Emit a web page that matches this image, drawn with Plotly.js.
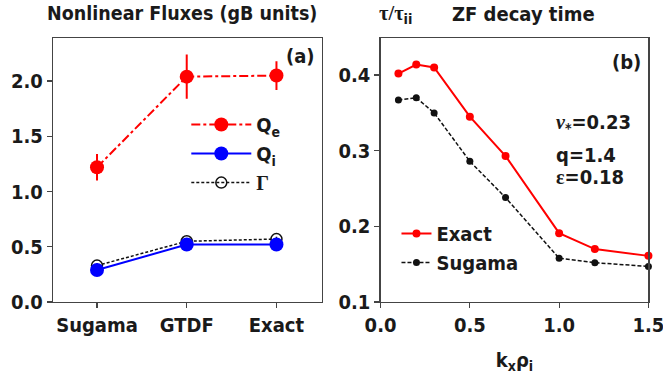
<!DOCTYPE html>
<html><head><meta charset="utf-8">
<script src="https://cdn.plot.ly/plotly-3.0.1.min.js"></script>
<style>body{margin:0;padding:0;background:#fff}#c{width:663px;height:382px}</style>
</head><body><div id="c"></div>
<script>
// Panel (a): nonlinear fluxes
const models = ['Sugama', 'GTDF', 'Exact'];
const modelPos = [0, 1, 2];
const Qe = [1.22, 2.04, 2.05];
const QeErr = [0.12, 0.20, 0.13];
const Qi = [0.29, 0.52, 0.52];
const QiErr = [0.02, 0.02, 0.02];
const Gam = [0.33, 0.55, 0.57];
const GamErr = [0.02, 0.02, 0.02];
// Panel (b): ZF decay time
const kx = [0.1, 0.2, 0.3, 0.5, 0.7, 1.0, 1.2, 1.5];
const tauExact = [0.402, 0.414, 0.410, 0.345, 0.293, 0.191, 0.170, 0.161];
const tauSugama = [0.367, 0.370, 0.350, 0.286, 0.238, 0.158, 0.152, 0.147];

const FF = '"DejaVu Sans Condensed", "Liberation Sans Narrow", sans-serif';
const SERIF = 'Liberation Serif';
const TXT = '#1a1a1a';
const bf = (s) => ({family: FF, size: s, color: TXT, weight: 'bold'});
const serif = (t) => '<span style="font-family:' + SERIF + '">' + t + '</span>';

const traces = [
  {x: modelPos, y: Gam, name: serif('Γ'), legendrank: 3, mode: 'lines+markers', xaxis: 'x', yaxis: 'y',
   line: {color: '#111', width: 1.5, dash: '3px,2px'},
   marker: {symbol: 'circle-open', size: 11, color: '#111', line: {width: 1.5, color: '#111'}},
   error_y: {type: 'data', array: GamErr, thickness: 1.5, width: 0, color: '#111'}},
  {x: modelPos, y: Qi, name: 'Q<sub>i</sub>', legendrank: 2, mode: 'lines+markers', xaxis: 'x', yaxis: 'y',
   line: {color: '#0000ff', width: 2},
   marker: {symbol: 'circle', size: 14, color: '#0000ff'},
   error_y: {type: 'data', array: QiErr, thickness: 2, width: 0, color: '#0000ff'}},
  {x: modelPos, y: Qe, name: 'Q<sub>e</sub>', legendrank: 1, mode: 'lines+markers', xaxis: 'x', yaxis: 'y',
   line: {color: '#ff0000', width: 2, dash: 'dashdot'},
   marker: {symbol: 'circle', size: 14, color: '#ff0000'},
   error_y: {type: 'data', array: QeErr, thickness: 2, width: 0, color: '#ff0000'}},
  {x: kx, y: tauExact, name: 'Exact', legend: 'legend2', mode: 'lines+markers', xaxis: 'x2', yaxis: 'y2',
   line: {color: '#ff0000', width: 2}, marker: {symbol: 'circle', size: 8, color: '#ff0000'}, cliponaxis: false},
  {x: kx, y: tauSugama, name: 'Sugama', legend: 'legend2', mode: 'lines+markers', xaxis: 'x2', yaxis: 'y2',
   line: {color: '#111', width: 1.5, dash: '4px,2px'}, marker: {symbol: 'circle', size: 7, color: '#111'}, cliponaxis: false}
];

const axBase = {
  showline: true, mirror: true, linecolor: '#444', linewidth: 1.2,
  ticks: 'outside', ticklen: 5, tickcolor: '#444', tickwidth: 1.2,
  showgrid: false, zeroline: false, tickfont: bf(20), ticklabeloverflow: 'allow'
};

const yTop = 0.9005, yBot = 0.2094;
const layout = {
  width: 663, height: 382,
  margin: {l: 0, r: 0, t: 0, b: 0},
  paper_bgcolor: '#fff', plot_bgcolor: '#fff',
  showlegend: true,
  xaxis: Object.assign({}, axBase, {domain: [0.08, 0.486], range: [-0.49, 2.51],
    tickmode: 'array', tickvals: modelPos, ticktext: models, anchor: 'y'}),
  yaxis: Object.assign({}, axBase, {domain: [yBot, yTop], range: [0, 2.39],
    tickvals: [0, 0.5, 1.0, 1.5, 2.0], tickformat: '.1f', anchor: 'x'}),
  xaxis2: Object.assign({}, axBase, {domain: [0.574, 0.978], range: [0, 1.5],
    tickvals: [0, 0.5, 1.0, 1.5], tickformat: '.1f', anchor: 'y2',
    title: {text: 'k<sub>x</sub>ρ<sub>i</sub>', font: bf(20), standoff: 16}}),
  yaxis2: Object.assign({}, axBase, {domain: [yBot, yTop], range: [0.1, 0.449],
    tickvals: [0.1, 0.2, 0.3, 0.4], tickformat: '.1f', anchor: 'x2'}),
  legend: {x: 0.281, y: 0.725, xanchor: 'left', yanchor: 'top', bgcolor: 'rgba(0,0,0,0)',
    font: bf(20), itemwidth: 60, tracegroupgap: 0, traceorder: 'normal'},
  legend2: {x: 0.598, y: 0.44, xanchor: 'left', yanchor: 'top', bgcolor: 'rgba(0,0,0,0)',
    font: bf(20), itemwidth: 30, traceorder: 'normal'},
  annotations: [
    {xref: 'paper', yref: 'paper', x: 0.275, y: 1.0, xanchor: 'center', yanchor: 'top',
     text: 'Nonlinear Fluxes (gB units)', showarrow: false, font: bf(19.5)},
    {xref: 'paper', yref: 'paper', x: 0.569, y: 1.0, xanchor: 'left', yanchor: 'top',
     text: serif('τ/τ') + '<sub>ii</sub>', showarrow: false, font: bf(20.5)},
    {xref: 'paper', yref: 'paper', x: 0.678, y: 1.0, xanchor: 'left', yanchor: 'top',
     text: 'ZF decay time', showarrow: false, font: bf(20)},
    {xref: 'paper', yref: 'paper', x: 0.478, y: 0.89, xanchor: 'right', yanchor: 'top',
     text: '(a)', showarrow: false, font: bf(20)},
    {xref: 'paper', yref: 'paper', x: 0.970, y: 0.875, xanchor: 'right', yanchor: 'top',
     text: '(b)', showarrow: false, font: bf(20)},
    {xref: 'paper', yref: 'paper', x: 0.836, y: 0.678, xanchor: 'left', yanchor: 'middle',
     text: serif('<i>ν</i>') + '<sub>*</sub>=0.23', showarrow: false, font: bf(20)},
    {xref: 'paper', yref: 'paper', x: 0.836, y: 0.595, xanchor: 'left', yanchor: 'middle',
     text: 'q=1.4', showarrow: false, font: bf(20)},
    {xref: 'paper', yref: 'paper', x: 0.836, y: 0.537, xanchor: 'left', yanchor: 'middle',
     text: serif('ε') + '=0.18', showarrow: false, font: bf(20)}
  ]
};

Plotly.newPlot('c', traces, layout, {displayModeBar: false, staticPlot: true});
</script>
</body></html>
